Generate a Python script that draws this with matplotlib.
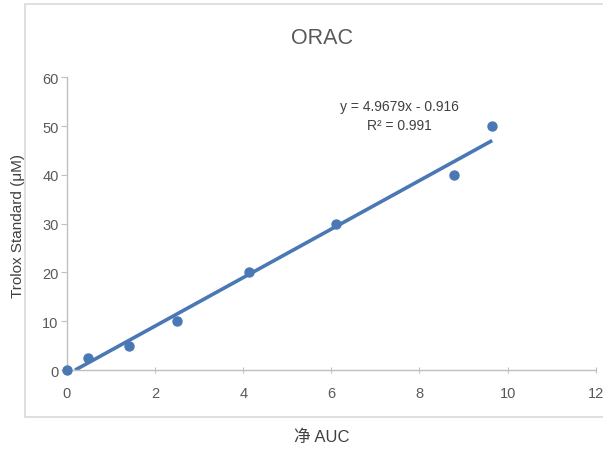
import numpy as np
import matplotlib.pyplot as plt
from matplotlib.patches import Rectangle

# data
net_auc = [0.0, 0.47, 1.40, 2.49, 4.14, 6.11, 8.78, 9.65]
trolox = [0.0, 2.5, 5.0, 10.0, 20.0, 30.0, 40.0, 50.0]
slope = 4.9679
intercept = -0.916
r2 = 0.991
x_ticks = [0, 2, 4, 6, 8, 10, 12]
y_ticks = [0, 10, 20, 30, 40, 50, 60]

plt.rcParams['font.family'] = ['Liberation Sans', 'DejaVu Sans']
blue = '#4a78b4'
grey = '#595959'

fig = plt.figure(figsize=(6.03, 4.52), dpi=100)
# outer chart frame
frame = Rectangle((0.041, 0.075), 1.0, 0.914, transform=fig.transFigure,
                  facecolor='white', edgecolor='#d9d9d9', lw=1.2, zorder=-5)
fig.patches.append(frame)

ax = fig.add_axes([0.111, 0.179, 0.877, 0.648])
ax.set_zorder(2)
ax.set_facecolor('none')

# trendline from y=0 crossing to last point
x0 = -intercept / slope
xl = np.array([x0, max(net_auc)])
ax.plot(xl, slope * xl + intercept, color=blue, lw=2.6, solid_capstyle='butt', zorder=2)
ax.scatter(net_auc, trolox, s=42, color=blue, zorder=3, clip_on=False)

ax.set_xlim(0, 12)
ax.set_ylim(0, 60)
ax.set_xticks(x_ticks)
ax.set_yticks(y_ticks)
for s in ['top', 'right']:
    ax.spines[s].set_visible(False)
for s in ['left', 'bottom']:
    ax.spines[s].set_color('#bfbfbf')
    ax.spines[s].set_linewidth(1.0)
ax.tick_params(axis='y', colors='#bfbfbf', labelcolor=grey, labelsize=10.5, length=4, pad=2)
ax.tick_params(axis='x', colors='#bfbfbf', labelcolor=grey, labelsize=10.5, length=5,
               direction='inout', pad=9)

fig.text(0.534, 0.915, 'ORAC', ha='center', va='center', fontsize=15.5, color=grey)
ax.text(7.55, 52.1, 'y = %.4fx - %.3f\nR² = %.3f' % (slope, -intercept, r2),
        ha='center', va='center', fontsize=10, color='#404040', linespacing=1.45)

fig.text(0.534, 0.033, '净 AUC', ha='center', va='center', fontsize=12, color='#404040',
         family=['Liberation Sans', 'Noto Sans CJK SC'])
fig.text(0.03, 0.50, 'Trolox Standard (μM)', ha='center', va='center', rotation=90,
         fontsize=11, color='#404040')

fig.savefig('out.png', dpi=100)
